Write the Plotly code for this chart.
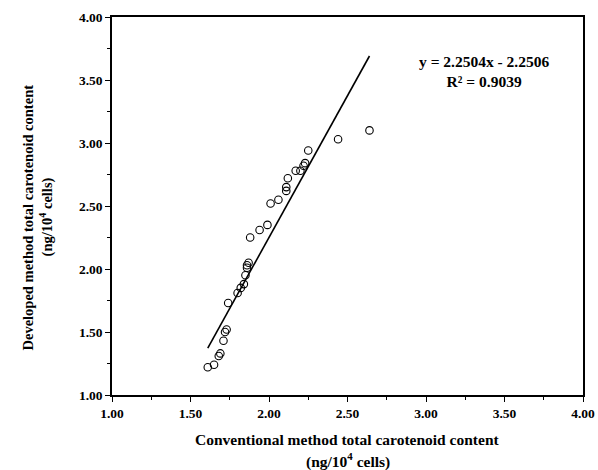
import numpy as np
import plotly.graph_objects as go

# Total carotenoid content measured by both methods (ng/10^4 cells)
conventional = [1.61, 1.65, 1.68, 1.69, 1.71, 1.72, 1.73, 1.74, 1.80, 1.82,
                1.84, 1.85, 1.86, 1.86, 1.87, 1.88, 1.94, 1.99, 2.01, 2.06,
                2.11, 2.11, 2.12, 2.17, 2.20, 2.22, 2.23, 2.25, 2.44, 2.64]
developed = [1.22, 1.24, 1.31, 1.33, 1.43, 1.50, 1.52, 1.73, 1.81, 1.85,
             1.88, 1.95, 2.01, 2.03, 2.05, 2.25, 2.31, 2.35, 2.52, 2.55,
             2.62, 2.65, 2.72, 2.78, 2.78, 2.82, 2.84, 2.94, 3.03, 3.10]

# Linear fit reported on the chart
slope = 2.2504
intercept = -2.2506
r_squared = 0.9039

tick_vals = [1.0, 1.5, 2.0, 2.5, 3.0, 3.5, 4.0]
tick_text = ["1.00", "1.50", "2.00", "2.50", "3.00", "3.50", "4.00"]

x_title = ["Conventional method total carotenoid content", "(ng/10<sup>4</sup> cells)"]
y_title = ["Developed method total carotenoid content", "(ng/10<sup>4</sup> cells)"]

fit_x = np.array([min(conventional), max(conventional)])
fit_y = slope * fit_x + intercept

font_family = "Liberation Serif"

fig = go.Figure()
fig.add_trace(go.Scatter(
    x=conventional, y=developed, mode="markers",
    marker=dict(symbol="circle-open", size=7.5, color="black", line=dict(width=1.1)),
    showlegend=False, cliponaxis=False,
))
fig.add_trace(go.Scatter(
    x=fit_x, y=fit_y, mode="lines",
    line=dict(color="black", width=1.6),
    showlegend=False,
))

# Regression equation and R²
fig.add_annotation(
    x=3.37, y=3.57, xref="x", yref="y", showarrow=False,
    text=f"<b>y = {slope:.4f}x - {abs(intercept):.4f}<br>R² = {r_squared:.4f}</b>",
    font=dict(family=font_family, size=15.5, color="black"),
    align="center",
)

# Axis titles, one line per annotation
for text, ypos in zip(x_title, [-0.118, -0.172]):
    fig.add_annotation(
        x=0.5, y=ypos, xref="paper", yref="paper", showarrow=False,
        text=f"<b>{text}</b>", xanchor="center", yanchor="middle",
        font=dict(family=font_family, size=15.5, color="black"),
    )
for text, xpos in zip(y_title, [-0.178, -0.140]):
    fig.add_annotation(
        x=xpos, y=0.47, xref="paper", yref="paper", showarrow=False,
        text=f"<b>{text}</b>", xanchor="center", yanchor="middle", textangle=-90,
        font=dict(family=font_family, size=14.5, color="black"),
    )

axis_common = dict(
    range=[1.0, 4.0],
    tickvals=tick_vals, ticktext=[f"<b>{t}</b>" for t in tick_text],
    showline=True, linecolor="black", linewidth=1.5, mirror=True,
    ticks="outside", ticklen=5, tickwidth=1.2, tickcolor="black",
    minor=dict(dtick=0.25, ticks="outside", ticklen=3, tickwidth=1, tickcolor="black"),
    showgrid=False, zeroline=False, automargin=False,
    tickfont=dict(family=font_family, size=13.5, color="black"),
)

fig.update_xaxes(**axis_common)
fig.update_yaxes(**axis_common)

fig.update_layout(
    width=598, height=470,
    margin=dict(l=112, r=15, t=17, b=75),
    plot_bgcolor="white", paper_bgcolor="white",
)

fig.write_html("out.html")
